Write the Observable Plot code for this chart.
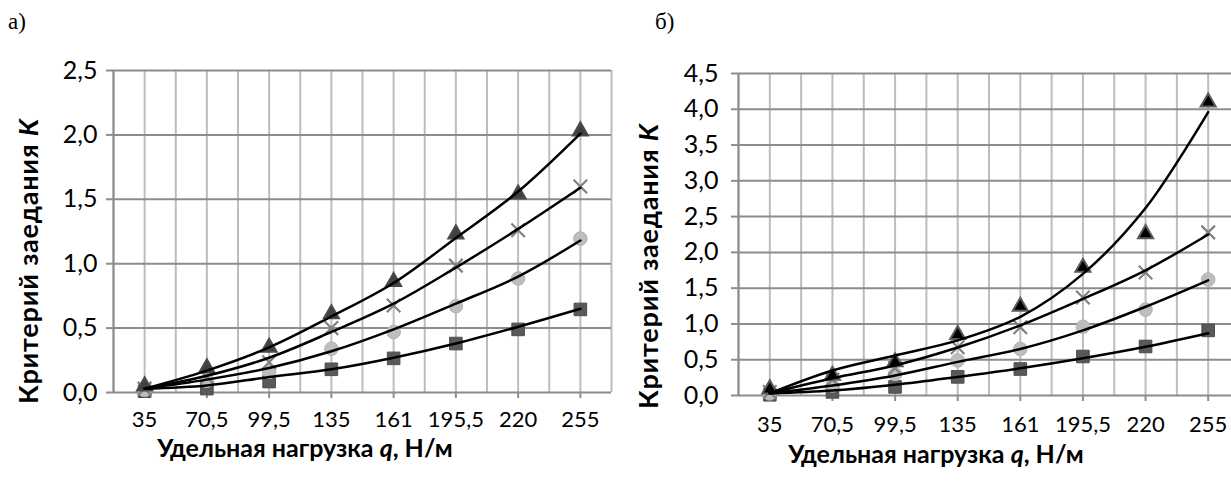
<!DOCTYPE html>
<html>
<head>
<meta charset="utf-8">
<script src="https://cdn.jsdelivr.net/npm/d3@7"></script>
<script src="https://cdn.jsdelivr.net/npm/@observablehq/plot@0.6"></script>
<style>
  html, body { margin: 0; padding: 0; background: #fff; overflow: hidden; width: 1231px; height: 488px; }
  #wrap { position: relative; width: 1231px; height: 488px; overflow: hidden; }
  .panel { position: absolute; top: 0; }
</style>
</head>
<body>
<div id="wrap"></div>
<script>
// Categories (x axis tick labels)
const categories = ["35", "70,5", "99,5", "135", "161", "195,5", "220", "255"];

// Panel а) — measured points
const aTriangle = [0.05, 0.19, 0.35, 0.61, 0.86, 1.23, 1.54, 2.03];
const aCross    = [0.03, 0.12, 0.235, 0.50, 0.675, 0.985, 1.26, 1.60];
const aCircle   = [0.02, 0.09, 0.16, 0.34, 0.47, 0.67, 0.885, 1.195];
const aSquare   = [0.01, 0.03, 0.085, 0.18, 0.265, 0.38, 0.49, 0.645];
// Panel а) — trend lines (read at each category)
const aTriangleTrend = [0.03, 0.17, 0.35, 0.59, 0.85, 1.20, 1.56, 2.01];
const aCrossTrend    = [0.03, 0.13, 0.27, 0.47, 0.69, 0.97, 1.27, 1.59];
const aCircleTrend   = [0.03, 0.10, 0.19, 0.32, 0.49, 0.69, 0.90, 1.18];
const aSquareTrend   = [0.03, 0.055, 0.12, 0.18, 0.27, 0.38, 0.51, 0.65];

// Panel б) — measured points
const bTriangle = [0.09, 0.28, 0.47, 0.85, 1.245, 1.79, 2.26, 4.10];
const bCross    = [0.05, 0.22, 0.38, 0.675, 0.955, 1.37, 1.72, 2.28];
const bCircle   = [0.03, 0.14, 0.30, 0.49, 0.65, 0.96, 1.20, 1.62];
const bSquare   = [0.01, 0.05, 0.12, 0.26, 0.37, 0.545, 0.685, 0.91];
// Panel б) — trend lines
const bTriangleTrend = [0.03, 0.35, 0.56, 0.77, 1.10, 1.70, 2.62, 3.96];
const bCrossTrend    = [0.03, 0.24, 0.42, 0.67, 0.98, 1.35, 1.75, 2.25];
const bCircleTrend   = [0.03, 0.14, 0.28, 0.47, 0.65, 0.91, 1.24, 1.61];
const bSquareTrend   = [0.03, 0.07, 0.15, 0.26, 0.38, 0.52, 0.68, 0.87];

// Text
const panelLabels = ["а)", "б)"];
const xTitle = ["Удельная нагрузка ", "q", ", Н/м"];
const yTitle = ["Критерий заедания ", "K"];

const FONT = "Lato, 'Open Sans', sans-serif";
const toRows = arr => arr.map((v, i) => ({i, v}));
const fmt = d => d.toFixed(1).replace(".", ",");

function panel(cfg) {
  const {data, trends, yMax, width, left, marginLeft, marginRight, marginTop, marginBottom,
         triFill, triStroke, yPad, xPad, label, labelX, xTitleX, xTitleY, yTitleX, yTitleY} = cfg;
  const gridX = d3.range(-0.5, 7.51, 0.5);
  const gridY = d3.range(0, yMax + 0.001, 0.5);
  const svg = Plot.plot({
    width, height: 488, marginLeft, marginRight, marginTop, marginBottom,
    style: {fontFamily: FONT, background: "transparent", overflow: "visible", color: "#000"},
    x: {type: "linear", domain: [-0.5, 7.5]},
    y: {domain: [0, yMax]},
    marks: [
      Plot.ruleX(gridX, {stroke: "#bdbdbd", strokeWidth: 2}),
      Plot.ruleX([-0.5], {stroke: "#8c8c8c", strokeWidth: 2}),
      Plot.ruleY(gridY, {stroke: "#8c8c8c", strokeWidth: 2}),
      Plot.axisY({ticks: gridY, tickSize: 7, tickPadding: yPad, tickFormat: fmt, fontSize: 25,
                  stroke: "#8c8c8c", strokeWidth: 2, label: null}),
      Plot.axisX({ticks: d3.range(8), tickSize: 6, tickPadding: xPad, tickFormat: i => categories[i],
                  fontSize: 22, stroke: "#8c8c8c", strokeWidth: 2, label: null}),
      Plot.dot(toRows(data.square), {x: "i", y: "v", symbol: "square", r: 7.1, fill: "#595959", stroke: "#4d4d4d", strokeWidth: 1}),
      Plot.dot(toRows(data.circle), {x: "i", y: "v", symbol: "circle", r: 6.8, fill: "#bdbdbd", stroke: "#b3b3b3", strokeWidth: 1}),
      Plot.dot(toRows(data.cross), {x: "i", y: "v", symbol: "times", r: 6.2, stroke: "#808080", strokeWidth: 2.2}),
      Plot.dot(toRows(data.tri), {x: "i", y: "v", symbol: "triangle", r: 5.6, fill: triFill, stroke: triStroke, strokeWidth: 2}),
      ...trends.map(t => Plot.line(toRows(t), {x: "i", y: "v", curve: "catmull-rom", stroke: "#000", strokeWidth: 2.5}))
    ]
  });
  svg.classList.add("panel");
  svg.style.left = left + "px";
  const s = d3.select(svg);
  // make sure the tick-label font sizes are applied
  s.selectAll('g[aria-label="x-axis tick label"]').attr("font-size", 22).style("font-size", "22px");
  s.selectAll('g[aria-label="y-axis tick label"]').attr("font-size", 25).style("font-size", "25px");
  s.append("text").attr("x", labelX).attr("y", 29).attr("text-anchor", "start")
    .attr("font-family", "'Liberation Serif', 'Times New Roman', serif").attr("font-size", 23).attr("fill", "#000")
    .text(label);
  const xt = s.append("text").attr("x", xTitleX).attr("y", xTitleY).attr("text-anchor", "middle")
    .attr("font-family", FONT).attr("font-size", 25).attr("font-weight", "bold").attr("fill", "#000");
  xt.append("tspan").text(xTitle[0]);
  xt.append("tspan").attr("font-style", "italic").text(xTitle[1]);
  xt.append("tspan").text(xTitle[2]);
  const yt = s.append("text").attr("transform", `translate(${yTitleX},${yTitleY}) rotate(-90)`)
    .attr("text-anchor", "middle").attr("dy", "0.35em").attr("letter-spacing", 0.8)
    .attr("font-family", FONT).attr("font-size", 27).attr("font-weight", "bold").attr("fill", "#000");
  yt.append("tspan").text(yTitle[0]);
  yt.append("tspan").attr("font-style", "italic").text(yTitle[1]);
  return svg;
}

const wrap = document.getElementById("wrap");
wrap.appendChild(panel({
  data: {tri: aTriangle, cross: aCross, circle: aCircle, square: aSquare},
  trends: [aSquareTrend, aCircleTrend, aCrossTrend, aTriangleTrend],
  yMax: 2.5, width: 620, left: 0, marginLeft: 113, marginRight: 9, marginTop: 70, marginBottom: 96,
  triFill: "#404040", triStroke: "#4a4a4a", yPad: 9, xPad: 13, label: panelLabels[0], labelX: 8,
  xTitleX: 305, xTitleY: 457, yTitleX: 29, yTitleY: 261
}));
wrap.appendChild(panel({
  data: {tri: bTriangle, cross: bCross, circle: bCircle, square: bSquare},
  trends: [bSquareTrend, bCircleTrend, bCrossTrend, bTriangleTrend],
  yMax: 4.5, width: 630, left: 620, marginLeft: 118, marginRight: 11, marginTop: 73, marginBottom: 93,
  triFill: "#000", triStroke: "#5a5a5a", yPad: 13, xPad: 15, label: panelLabels[1], labelX: 35,
  xTitleX: 316, xTitleY: 463, yTitleX: 29, yTitleY: 266
}));
</script>
</body>
</html>
